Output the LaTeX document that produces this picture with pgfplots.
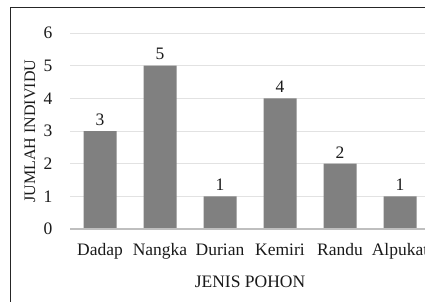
\documentclass[border=0pt]{standalone}
\usepackage{fontspec}
\setmainfont{Liberation Serif}
\usepackage{pgfplots}
\pgfplotsset{compat=1.18}
\definecolor{barc}{HTML}{808080}
\definecolor{gridc}{HTML}{E2E2E2}
\definecolor{axc}{HTML}{BFBFBF}
\definecolor{txt}{HTML}{1A1A1A}
\begin{document}
\begin{tikzpicture}
\useasboundingbox (0,0) rectangle (425pt,301pt);
\clip (0,0) rectangle (425pt,301pt);
\fill[white] (0,0) rectangle (425pt,301pt);
\draw[line width=1pt, black!85] (10pt,-30pt) rectangle (460pt,294pt);
\begin{axis}[
  at={(70pt,72pt)}, anchor=south west,
  scale only axis, width=360pt, height=196pt,
  xmin=-0.5, xmax=5.5, ymin=0, ymax=6,
  ytick={0,1,2,3,4,5,6},
  xtick={0,1,2,3,4,5},
  xticklabels={Dadap,Nangka,Durian,Kemiri,Randu,Alpukat},
  axis line style={draw=none},
  tick style={draw=none},
  ymajorgrids, major grid style={draw=gridc, line width=1pt},
  /pgf/number format/assume math mode=true,
  ticklabel style={font=\fontsize{17.5}{20}\selectfont, text=txt},
  yticklabel style={anchor=east, xshift=-14pt},
  xticklabel style={anchor=north, yshift=-11pt},
  xlabel={JENIS POHON},
  xlabel style={font=\fontsize{17.5}{20}\selectfont, text=txt, at={(axis description cs:0.5,0)}, anchor=center, yshift=-53pt},
  ylabel={JUMLAH INDIVIDU},
  ylabel style={font=\fontsize{16}{18}\selectfont, text=txt, at={(axis description cs:-0.111,0.5)}, anchor=center, rotate=0},
  clip=false,
  nodes near coords,
  nodes near coords style={font=\fontsize{17.5}{20}\selectfont, text=txt, yshift=2pt},
]
\addplot[ybar, bar width=33pt, fill=barc, draw=none] coordinates {
  (0,3) (1,5) (2,1) (3,4) (4,2) (5,1)
};
\draw[axc, line width=2pt] (axis cs:-0.5,0) -- (axis cs:5.5,0);
\end{axis}
\end{tikzpicture}
\end{document}
